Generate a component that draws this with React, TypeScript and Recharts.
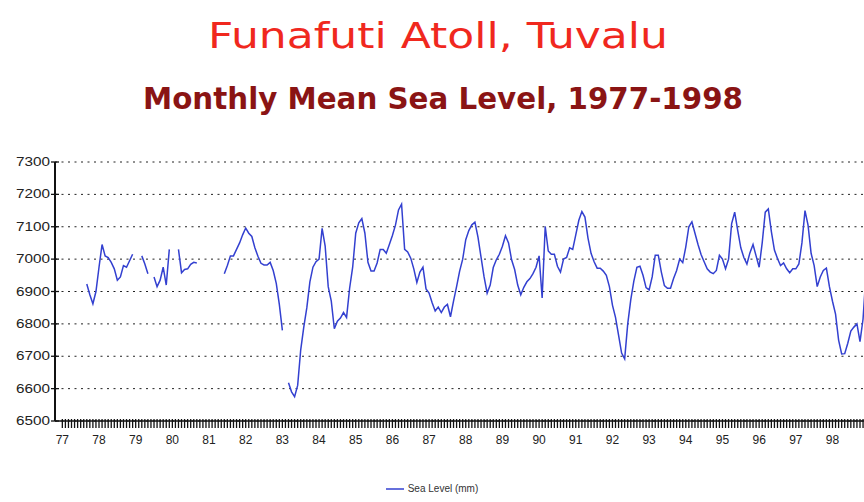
import React from "react";
import { LineChart, Line, XAxis, YAxis, CartesianGrid, Legend } from "recharts";

// monthly mean sea level (mm), one row per year, Jan..Dec, null = no record
const years = [1977, 1978, 1979, 1980, 1981, 1982, 1983, 1984, 1985, 1986, 1987, 1988, 1989, 1990, 1991, 1992, 1993, 1994, 1995, 1996, 1997, 1998];
const seaLevel: (number | null)[][] = [
	[null, null, null, null, null, null, null, null, 6923, 6890, 6862, 6900],
	[6975, 7045, 7010, 7005, 6990, 6970, 6935, 6945, 6980, 6975, 6995, 7015],
	[null, null, 7010, 6985, 6955, null, 6945, 6915, 6935, 6975, 6920, 7030],
	[null, null, 7030, 6958, 6968, 6970, 6984, 6990, 6988, null, null, null],
	[null, null, null, null, null, 6955, 6980, 7010, 7010, 7030, 7050, 7075],
	[7096, 7080, 7070, 7035, 7009, 6987, 6982, 6982, 6990, 6965, 6925, 6860],
	[6780, null, 6618, 6590, 6575, 6610, 6720, 6790, 6850, 6930, 6975, 6992],
	[7000, 7095, 7040, 6915, 6870, 6785, 6808, 6818, 6835, 6820, 6910, 6975],
	[7080, 7112, 7125, 7080, 6990, 6963, 6963, 6988, 7030, 7030, 7018, 7045],
	[7073, 7105, 7152, 7170, 7030, 7022, 7003, 6970, 6928, 6960, 6975, 6908],
	[6895, 6865, 6840, 6852, 6835, 6852, 6860, 6822, 6870, 6915, 6963, 7000],
	[7060, 7088, 7106, 7114, 7068, 7006, 6945, 6895, 6920, 6974, 6998, 7015],
	[7040, 7072, 7050, 6998, 6968, 6920, 6890, 6913, 6930, 6940, 6955, 6975],
	[7010, 6880, 7101, 7025, 7015, 7015, 6978, 6960, 7000, 7005, 7035, 7030],
	[7075, 7120, 7147, 7130, 7065, 7018, 6992, 6972, 6972, 6963, 6950, 6915],
	[6858, 6820, 6765, 6710, 6692, 6800, 6875, 6932, 6975, 6978, 6950, 6912],
	[6905, 6945, 7012, 7012, 6960, 6918, 6910, 6910, 6940, 6965, 7000, 6989],
	[7038, 7100, 7115, 7080, 7045, 7014, 6992, 6970, 6960, 6955, 6965, 7012],
	[7000, 6970, 7000, 7110, 7145, 7088, 7035, 7005, 6985, 7020, 7045, 7010],
	[6975, 7050, 7145, 7155, 7085, 7028, 7002, 6980, 6988, 6970, 6958, 6970],
	[6970, 6985, 7050, 7150, 7105, 7018, 6980, 6915, 6945, 6965, 6972, 6915],
	[6870, 6830, 6750, 6707, 6708, 6740, 6778, 6790, 6800, 6745, 6815, 6960],
];
const yearLabels = ["77", "78", "79", "80", "81", "82", "83", "84", "85", "86", "87", "88", "89", "90", "91", "92", "93", "94", "95", "96", "97", "98"];
const levelTicks = [6500, 6600, 6700, 6800, 6900, 7000, 7100, 7200, 7300];

const data = years.flatMap((yr, i) => seaLevel[i].map((v, m) => ({ t: yr + m / 12, level: v })));

const monthTicks: number[] = [];
for (let m = 0; m <= 264; m++) monthTicks.push(1977 + m / 12);

const axisFont = "'Liberation Sans', Arial, sans-serif";

const MonthTick = (props: any) => {
	const { x, y, payload } = props;
	const v = payload.value;
	const idx = Math.round(v) - 1977;
	const isYear = Math.abs(v - Math.round(v)) < 1e-6 && idx >= 0 && idx < yearLabels.length;
	return <g>
		<line x1={x} x2={x} y1={y - 2} y2={y + 7} stroke="#111" strokeWidth={1.3} />
		{isYear && <text x={x} y={y + 23} textAnchor="middle" fontSize={12} fill="#222" fontFamily={axisFont}>{yearLabels[idx]}</text>}
	</g>
}

const LevelTick = (props: any) => {
	const { x, y, payload } = props;
	return <g>
		<line x1={x - 4} x2={x + 4} y1={y} y2={y} stroke="#111" strokeWidth={1.3} />
		<text x={x - 5} y={y + 4} textAnchor="end" fontSize={12} fill="#222" fontFamily={axisFont} textLength={34} lengthAdjust="spacingAndGlyphs">{payload.value}</text>
	</g>
}

const LegendBox = () => <div style={{ display: "flex", alignItems: "center", justifyContent: "center", fontFamily: axisFont, fontSize: 10, color: "#333" }}>
	<svg width={18} height={6} style={{ marginRight: 4 }}><line x1={0} x2={18} y1={3} y2={3} stroke="#3340d0" strokeWidth={1.5} /></svg>
	<span>Sea Level (mm)</span>
</div>

export default function App() {
	return <div style={{ position: "fixed", left: 0, top: 0, width: 864, height: 502, overflow: "hidden", background: "#fff" }}>
		<svg width={864} height={130} style={{ position: "absolute", left: 0, top: 0 }}>
			<text x={438} y={48} textAnchor="middle" fontFamily="'DejaVu Sans', sans-serif" fontSize={36} fill="#f0281e" textLength={460} lengthAdjust="spacingAndGlyphs">Funafuti Atoll, Tuvalu</text>
			<text x={443} y={109} textAnchor="middle" fontFamily="'DejaVu Sans', sans-serif" fontWeight="bold" fontSize={30} fill="#8a1414" textLength={600} lengthAdjust="spacingAndGlyphs">Monthly Mean Sea Level, 1977-1998</text>
		</svg>
		<LineChart width={880} height={502} data={data} margin={{ top: 162, right: 9, bottom: 51, left: 0 }} style={{ position: "absolute", left: 0, top: 0 }}>
			<CartesianGrid vertical={false} stroke="#222" strokeDasharray="2 4.5" />
			<XAxis dataKey="t" type="number" domain={[1976.8, 1999.05]} ticks={monthTicks} interval={0} allowDataOverflow
				height={30} tickSize={0} tickMargin={0} tickLine={false} tick={<MonthTick />} axisLine={{ stroke: "#111", strokeWidth: 1.5 }} />
			<YAxis type="number" domain={[6500, 7300]} ticks={levelTicks} interval={0} width={55}
				tickSize={0} tickMargin={0} tickLine={false} tick={<LevelTick />} axisLine={{ stroke: "#111", strokeWidth: 2 }} />
			<Legend layout="horizontal" verticalAlign="middle" align="center" content={<LegendBox />}
				wrapperStyle={{ left: 0, top: 483, width: 864, height: 14 }} />
			<Line type="linear" dataKey="level" name="Sea Level (mm)" stroke="#3340d0" strokeWidth={1.5} dot={false} connectNulls={false} isAnimationActive={false} />
		</LineChart>
	</div>
}
